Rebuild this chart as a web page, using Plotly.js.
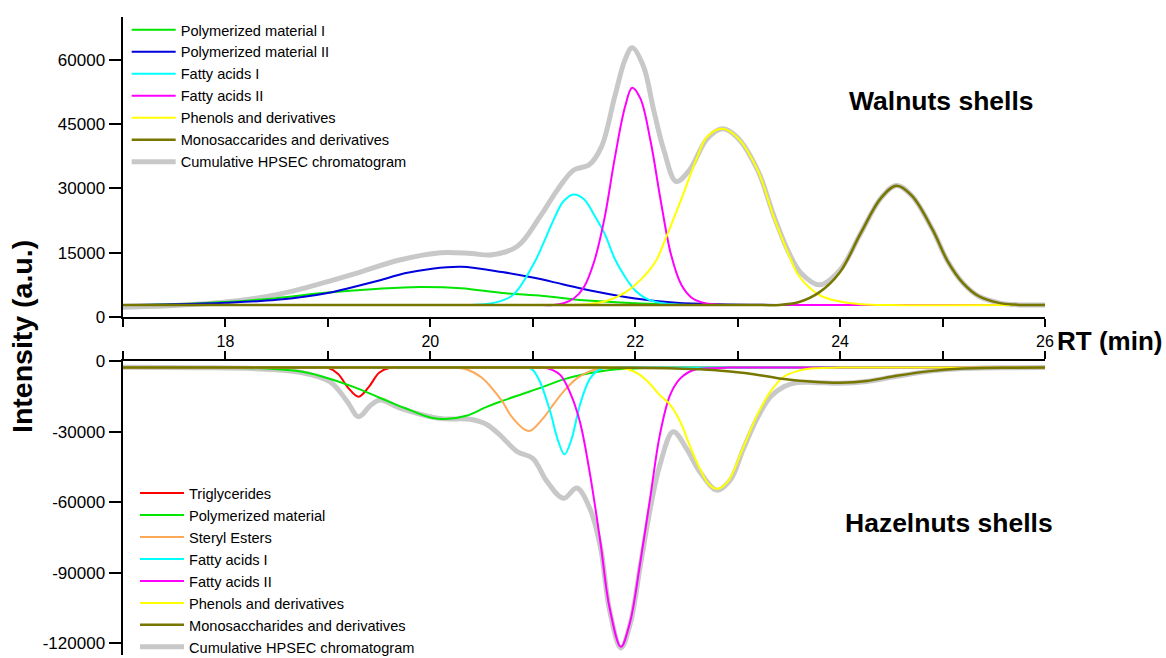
<!DOCTYPE html>
<html>
<head>
<meta charset="utf-8">
<script src="https://cdn.plot.ly/plotly-3.0.1.min.js"></script>
<style>html,body{margin:0;padding:0;background:#fff;}#chart{width:1166px;height:658px;}</style>
</head>
<body>
<div id="chart"></div>
<script>
// ---------- Walnuts shells (top panel) ----------
const wPM1_t = [17,17.5,18,18.5,19,19.5,19.9,20.3,20.7,21.1,21.5,22,22.5,23,26];
const wPM1_y = [2800,3000,3500,4400,5700,6600,7000,6700,5600,4900,3900,3200,2900,2800,2800];

const wPM2_t = [17,17.5,18,18.5,19,19.25,19.5,19.75,20,20.3,20.7,21,21.3,21.6,22,22.4,22.8,23.5,26];
const wPM2_y = [2800,2950,3300,4000,5600,7000,8500,10200,11200,11700,10500,9200,7600,6000,4300,3300,2950,2800,2800];

const wFA1_t = [17,20.2,20.4,20.6,20.8,21.0,21.1,21.2,21.3,21.4,21.5,21.6,21.7,21.8,21.9,22.0,22.1,22.2,22.4,22.6,26];
const wFA1_y = [2800,2800,2800,3200,5000,12000,17000,22500,27000,28600,27500,23800,19500,13600,9400,6200,4400,3500,2900,2800,2800];

const wFA2_t = [17,21.0,21.2,21.3,21.4,21.5,21.6,21.7,21.8,21.9,21.97,22.05,22.15,22.25,22.35,22.45,22.55,22.65,22.8,23.0,26];
const wFA2_y = [2800,2800,2800,3200,4300,7000,13000,23000,37000,49000,53500,51000,41000,27000,14500,7500,4500,3400,2900,2800,2800];

const wPH_t = [17,21.2,21.4,21.7,21.9,22.05,22.2,22.3,22.45,22.6,22.7,22.85,23.0,23.2,23.35,23.5,23.6,23.8,24.0,24.2,24.5,26];
const wPH_y = [2800,2800,2800,3600,5700,8600,13000,18500,27500,37000,42000,43900,41800,34000,23500,14500,9500,5100,3600,3000,2800,2800];

const wMS_t = [17,23.2,23.4,23.6,23.8,24.0,24.2,24.4,24.55,24.7,24.9,25.05,25.2,25.35,25.55,25.7,26];
const wMS_y = [2800,2800,2800,3500,5800,10500,19500,27800,30600,28300,20500,13000,7900,4900,3300,2900,2800];

const wCum_t = [17,17.5,18,18.5,18.75,19.25,19.7,20.1,20.4,20.6,20.85,21.07,21.25,21.4,21.55,21.67,21.8,21.9,21.97,22.08,22.18,22.28,22.4,22.53,22.7,22.85,23.0,23.2,23.35,23.5,23.62,23.8,24.0,24.2,24.4,24.55,24.7,24.9,25.05,25.2,25.35,25.55,25.7,26];
const wCum_y = [2300,2700,3500,5200,6600,10000,13300,15000,14800,14500,16500,23400,30000,34300,35500,39700,51400,60000,62800,58500,48300,38900,31600,34300,41500,43900,41800,34000,23800,15000,10200,7500,11000,19500,27800,30700,28300,20500,13000,7900,4900,3300,2900,2800];

// ---------- Hazelnuts shells (bottom panel) ----------
const hTG_t = [17,18.6,18.8,19.0,19.1,19.2,19.3,19.4,19.5,19.6,19.8,20.0,26];
const hTG_y = [-2800,-2800,-2800,-2900,-5500,-11500,-15200,-11000,-5000,-3000,-2800,-2800,-2800];

const hPM_t = [17,18,18.4,18.75,19.0,19.25,19.5,19.75,20.0,20.15,20.35,20.55,20.7,20.9,21.1,21.3,21.5,21.7,21.9,22.2,22.6,26];
const hPM_y = [-2800,-2900,-3200,-4600,-7300,-11000,-15500,-20000,-24000,-24700,-23300,-19500,-17000,-14000,-11000,-7800,-5600,-4100,-3400,-2900,-2800,-2800];

const hSE_t = [17,19.9,20.1,20.2,20.35,20.5,20.6,20.7,20.8,20.96,21.1,21.2,21.3,21.43,21.56,21.7,21.9,22.1,26];
const hSE_y = [-2800,-2800,-2800,-2800,-3500,-7000,-11500,-17000,-24000,-29800,-24400,-18500,-13000,-7400,-4300,-3100,-2800,-2800,-2800];

const hFA1_t = [17,20.7,20.85,20.95,21.0,21.07,21.17,21.25,21.31,21.38,21.46,21.56,21.66,21.8,22.0,26];
const hFA1_y = [-2800,-2800,-2800,-2800,-3800,-8800,-21500,-34300,-39700,-33000,-18700,-7400,-3400,-2800,-2800,-2800];

const hFA2_t = [17,20.8,21.0,21.1,21.2,21.27,21.36,21.46,21.56,21.66,21.75,21.86,21.95,22.05,22.15,22.24,22.34,22.44,22.57,22.7,22.9,23.1,26];
const hFA2_y = [-2800,-2800,-2800,-2800,-4000,-6000,-13000,-25800,-48500,-77000,-105000,-121500,-111000,-85500,-57000,-31500,-14500,-7400,-3800,-3100,-2800,-2800,-2800];

const hPH_t = [17,21.4,21.6,21.8,21.95,22.05,22.15,22.24,22.34,22.44,22.53,22.63,22.72,22.8,22.9,23.05,23.19,23.32,23.45,23.58,23.74,24,24.2,26];
const hPH_y = [-2800,-2800,-2800,-2800,-3800,-6000,-10000,-14500,-18500,-25800,-35700,-45700,-52500,-54300,-51500,-37200,-23000,-13000,-6700,-4300,-3100,-2800,-2800,-2800];

const hMS_t = [17,21.6,22.0,22.4,22.76,23.09,23.41,23.74,24.0,24.26,24.55,24.88,25.2,25.7,26];
const hMS_y = [-2800,-2800,-2900,-3200,-3800,-5200,-7400,-8800,-9200,-8500,-6300,-4300,-3200,-2850,-2800];

const hCum_t = [17,17.75,18.3,18.73,19.02,19.19,19.3,19.42,19.51,19.71,20.09,20.39,20.55,20.68,20.85,21.0,21.14,21.3,21.43,21.56,21.66,21.75,21.86,21.95,22.05,22.15,22.24,22.37,22.5,22.63,22.8,22.93,23.05,23.19,23.32,23.45,23.58,23.74,24.0,24.26,24.55,24.88,25.2,25.7,26];
const hCum_y = [-2600,-2850,-3300,-4800,-8800,-17300,-23700,-18700,-16600,-20100,-24400,-24800,-27000,-31500,-38600,-41400,-51300,-58400,-54000,-63000,-79000,-106000,-122000,-112000,-87000,-62000,-44300,-30100,-37200,-47100,-54900,-50500,-38000,-24400,-15200,-10900,-9200,-9100,-9500,-8700,-6500,-4300,-3200,-2850,-2800];

// tick labels
const xTickVals = [17,18,19,20,21,22,23,24,25,26];
const xTickText = ['','18','','20','','22','','24','','26'];
const yTopVals = [0,15000,30000,45000,60000];
const yTopText = ['0','15000','30000','45000','60000'];
const yBotVals = [0,-30000,-60000,-90000,-120000];
const yBotText = ['0','-30000','-60000','-90000','-120000'];

const FONT = 'Liberation Sans, Arial, sans-serif';

function tr(name, t, y, color, width, yaxis, legend, rank) {
  return {
    type: 'scatter', mode: 'lines', name: name, x: t, y: y,
    xaxis: yaxis === 'y' ? 'x' : 'x2', yaxis: yaxis,
    line: {color: color, width: width, shape: 'spline', smoothing: 1},
    legend: legend, legendrank: rank, hoverinfo: 'skip'
  };
}

const data = [
  tr('Cumulative HPSEC chromatogram', wCum_t, wCum_y, '#c8c8c8', 5, 'y', 'legend', 7),
  tr('Polymerized material I', wPM1_t, wPM1_y, '#00e600', 2, 'y', 'legend', 1),
  tr('Polymerized material II', wPM2_t, wPM2_y, '#0000dd', 2, 'y', 'legend', 2),
  tr('Fatty acids I', wFA1_t, wFA1_y, '#00ffff', 2, 'y', 'legend', 3),
  tr('Fatty acids II', wFA2_t, wFA2_y, '#ff00ff', 2, 'y', 'legend', 4),
  tr('Phenols and derivatives', wPH_t, wPH_y, '#ffff00', 2, 'y', 'legend', 5),
  tr('Monosaccarides and derivatives', wMS_t, wMS_y, '#777700', 2.5, 'y', 'legend', 6),

  tr('Cumulative HPSEC chromatogram', hCum_t, hCum_y, '#c8c8c8', 5, 'y2', 'legend2', 8),
  tr('Triglycerides', hTG_t, hTG_y, '#ff0000', 2, 'y2', 'legend2', 1),
  tr('Polymerized material', hPM_t, hPM_y, '#00e600', 2, 'y2', 'legend2', 2),
  tr('Steryl Esters', hSE_t, hSE_y, '#ffa858', 2, 'y2', 'legend2', 3),
  tr('Fatty acids I', hFA1_t, hFA1_y, '#00ffff', 2, 'y2', 'legend2', 4),
  tr('Fatty acids II', hFA2_t, hFA2_y, '#ff00ff', 2, 'y2', 'legend2', 5),
  tr('Phenols and derivatives', hPH_t, hPH_y, '#ffff00', 2, 'y2', 'legend2', 6),
  tr('Monosaccharides and derivatives', hMS_t, hMS_y, '#777700', 2.5, 'y2', 'legend2', 7)
];

const xCommon = {
  range: [17, 26], showline: true, linecolor: '#000', linewidth: 2.5,
  ticks: 'outside', ticklen: 8, tickwidth: 2, tickcolor: '#000',
  tickvals: xTickVals, ticktext: xTickText, showgrid: false, zeroline: false,
  tickfont: {family: 'Liberation Sans Narrow, Arial Narrow, ' + FONT, size: 16, color: '#000'}
};
const yCommon = {
  showline: true, linecolor: '#000', linewidth: 2.5,
  ticks: 'outside', ticklen: 12, tickwidth: 2, tickcolor: '#000',
  showgrid: false, zeroline: false,
  tickfont: {family: FONT, size: 17, color: '#000'}
};

const layout = {
  width: 1166, height: 658,
  margin: {l: 123, r: 121, t: 17, b: 3, autoexpand: false},
  paper_bgcolor: '#fff', plot_bgcolor: '#fff',
  showlegend: true,
  xaxis: Object.assign({}, xCommon, {anchor: 'y', domain: [0, 1], ticklabelstandoff: 0}),
  xaxis2: Object.assign({}, xCommon, {anchor: 'y2', domain: [0, 1], side: 'top', showticklabels: false, matches: 'x'}),
  yaxis: Object.assign({}, yCommon, {anchor: 'x', domain: [0.5298, 1], range: [0, 70000], tickvals: yTopVals, ticktext: yTopText}),
  yaxis2: Object.assign({}, yCommon, {anchor: 'x2', domain: [0, 0.4608], range: [-125000, 0], tickvals: yBotVals, ticktext: yBotText}),
  legend: {x: 0.004, y: 1.005, xanchor: 'left', yanchor: 'top', bgcolor: 'rgba(0,0,0,0)', itemwidth: 44,
           font: {family: FONT, size: 14.6, color: '#000'}, tracegroupgap: 0},
  legend2: {x: 0.013, y: 0.279, xanchor: 'left', yanchor: 'top', bgcolor: 'rgba(0,0,0,0)', itemwidth: 44,
            font: {family: FONT, size: 14.6, color: '#000'}, tracegroupgap: 0},
  annotations: [
    {text: '<b>Walnuts shells</b>', xref: 'paper', yref: 'paper', x: 0.888, y: 0.868, xanchor: 'center', yanchor: 'middle',
     showarrow: false, font: {family: FONT, size: 26.5, color: '#000'}},
    {text: '<b>Hazelnuts shells</b>', xref: 'paper', yref: 'paper', x: 0.896, y: 0.207, xanchor: 'center', yanchor: 'middle',
     showarrow: false, font: {family: FONT, size: 26.5, color: '#000'}},
    {text: '<b>RT (min)</b>', xref: 'paper', yref: 'paper', x: 1.0105, y: 0.492, xanchor: 'left', yanchor: 'middle',
     showarrow: false, font: {family: FONT, size: 26, color: '#000'}},
    {text: '<b>Intensity (a.u.)</b>', xref: 'paper', yref: 'paper', x: -0.1095, y: 0.4985, xanchor: 'center', yanchor: 'middle',
     showarrow: false, textangle: -90, font: {family: FONT, size: 28.5, color: '#000'}}
  ]
};

Plotly.newPlot('chart', data, layout, {displayModeBar: false, staticPlot: true});
</script>
</body>
</html>
